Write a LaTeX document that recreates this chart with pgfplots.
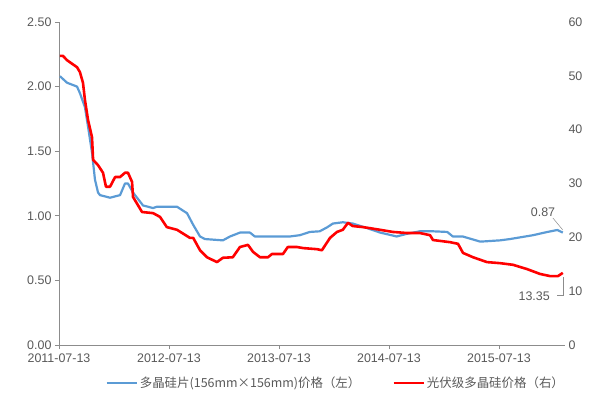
\documentclass[border=0pt]{standalone}
\usepackage{fontspec}
\setmainfont{Liberation Sans}
\newfontfamily\cjk{Noto Sans CJK SC}
\usepackage{pgfplots}
\pgfplotsset{compat=1.18}
\definecolor{bl}{HTML}{5B9BD5}
\definecolor{tx}{HTML}{595959}
\definecolor{ax}{HTML}{8C8C8C}
\begin{document}
\begin{tikzpicture}
\path[use as bounding box] (0,0) rectangle (600bp,398bp);
\begin{axis}[
 at={(59bp,53bp)}, anchor=south west, scale only axis, width=506bp, height=323bp,
 xmin=0, xmax=4.6, ymin=0, ymax=2.5,
 axis x line*=bottom, axis y line*=left,
 axis line style={ax, line width=0.8pt, -},
 xtick={0,1,2,3,4}, xticklabels={2011-07-13,2012-07-13,2013-07-13,2014-07-13,2015-07-13},
 ytick={0,0.5,1,1.5,2,2.5}, yticklabels={0.00,0.50,1.00,1.50,2.00,2.50},
 tick style={ax, line width=0.6pt}, major tick length=4bp, tick align=outside,
 ticklabel style={font=\fontsize{12.5}{14}\selectfont, text=tx},
 xticklabel style={yshift=-1bp},
 legend columns=2,
 legend style={at={(0.547,-0.118)}, anchor=center, draw=none, fill=none,
   font=\cjk\fontsize{12.5}{14}\selectfont, text=tx,
   /tikz/every even column/.append style={column sep=30bp}},
 legend image code/.code={\draw[#1] (0bp,0bp) -- (30bp,0bp);},
]
\addplot[bl, line width=2.2pt, line join=round] coordinates {
(0.009,2.08)(0.073,2.03)(0.164,2.00)(0.19,1.95)(0.236,1.84)(0.264,1.69)(0.30,1.49)
(0.327,1.28)(0.355,1.18)(0.373,1.16)(0.464,1.14)(0.555,1.16)(0.60,1.25)(0.627,1.25)
(0.673,1.18)(0.764,1.08)(0.855,1.06)(0.89,1.07)(1.073,1.07)(1.164,1.02)(1.22,0.93)
(1.282,0.84)(1.327,0.82)(1.49,0.81)(1.555,0.84)(1.645,0.87)(1.736,0.87)(1.78,0.84)
(2.01,0.84)(2.10,0.84)(2.19,0.85)(2.28,0.875)(2.37,0.88)(2.436,0.91)(2.49,0.94)
(2.58,0.95)(2.67,0.94)(2.80,0.905)(2.92,0.87)(3.07,0.84)(3.16,0.86)(3.28,0.88)
(3.40,0.88)(3.53,0.875)(3.58,0.84)(3.67,0.84)(3.83,0.80)(4.01,0.81)(4.10,0.82)
(4.31,0.85)(4.44,0.875)(4.53,0.89)(4.58,0.87)};
\addlegendentry{多晶硅片(156mm×156mm)价格（左）}
\addlegendimage{red, line width=2.6pt}
\addlegendentry{光伏级多晶硅价格（右）}
\draw[ax, line width=0.5pt] (axis cs:4.49,0.983) -- (axis cs:4.58,0.89);
\node[text=tx, font=\fontsize{12.5}{14}\selectfont] at (axis cs:4.40,1.03) {0.87};
\end{axis}
\begin{axis}[
 at={(59bp,53bp)}, anchor=south west, scale only axis, width=506bp, height=323bp,
 xmin=0, xmax=4.6, ymin=0, ymax=60,
 axis x line=none, axis y line*=right,
 y axis line style={draw=none},
 ytick={0,10,20,30,40,50,60}, ytick style={draw=none},
 /pgf/number format/assume math mode=true,
 yticklabel style={font=\fontsize{12.5}{14}\selectfont, text=tx},
]
\addplot[red, line width=2.6pt, line join=round] coordinates {
(0.009,53.7)(0.036,53.7)(0.073,52.9)(0.164,51.6)(0.19,50.7)(0.218,48.7)(0.236,45.5)
(0.264,41.8)(0.30,38.6)(0.31,34.4)(0.355,33.4)(0.40,32)(0.427,29.4)(0.464,29.4)
(0.51,31.2)(0.555,31.2)(0.60,32)(0.627,32)(0.664,30.3)(0.673,27.5)(0.755,24.7)
(0.855,24.5)(0.918,23.8)(0.98,21.9)(1.073,21.4)(1.19,19.9)(1.22,19.9)(1.282,17.6)
(1.345,16.3)(1.436,15.4)(1.49,16.2)(1.58,16.3)(1.645,18.2)(1.718,18.6)(1.764,17.3)
(1.827,16.3)(1.9,16.3)(1.936,16.9)(2.036,16.9)(2.08,18.2)(2.164,18.2)(2.22,18.0)
(2.345,17.8)(2.39,17.6)(2.464,19.9)(2.527,21.0)(2.58,21.4)(2.627,22.7)(2.67,22.1)
(2.764,21.9)(2.827,21.7)(2.918,21.4)(3.036,21.0)(3.164,20.8)(3.28,20.8)(3.373,20.4)
(3.40,19.5)(3.555,19.1)(3.627,18.8)(3.673,17.1)(3.764,16.3)(3.89,15.4)(4.01,15.2)
(4.127,14.9)(4.255,14.1)(4.373,13.2)(4.464,12.8)(4.536,12.8)(4.58,13.4)};
\draw[ax, line width=0.5pt] (axis cs:4.58,12.6) -- (axis cs:4.58,9.3) -- (axis cs:4.53,9.3);
\node[text=tx, font=\fontsize{12.5}{14}\selectfont] at (axis cs:4.32,9.1) {13.35};
\end{axis}
\end{tikzpicture}
\end{document}
